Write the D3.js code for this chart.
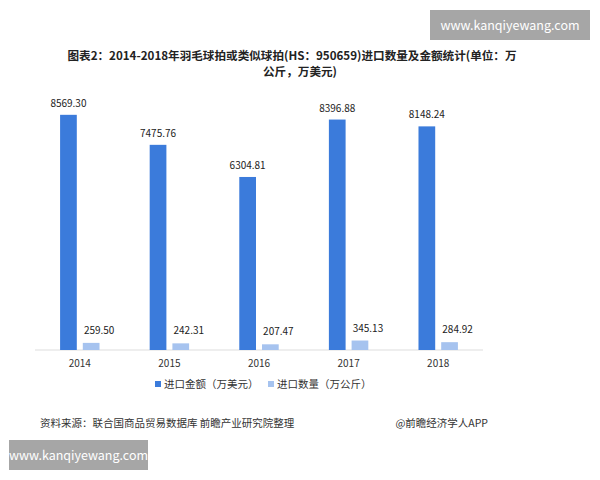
<!DOCTYPE html><html><head><meta charset="utf-8"><script src="https://cdn.jsdelivr.net/npm/d3@7"></script>
<style>body{margin:0;background:#fff}text{font-family:"Noto Sans CJK SC","Liberation Sans",sans-serif}</style></head><body><svg id="c" width="600" height="480"></svg><script>
const years=["2014","2015","2016","2017","2018"];
const amount=[8569.30,7475.76,6304.81,8396.88,8148.24];
const qty=[259.50,242.31,207.47,345.13,284.92];
const seriesNames=["进口金额（万美元）","进口数量（万公斤）"];
const colors=["#3b7bdb","#a6c3ef"];
const svg=d3.select("#c");
const x=d3.scaleBand().domain(years).range([35,483]).paddingInner(0.56).paddingOuter(0.28);
const y=d3.scaleLinear().domain([0,9000]).range([350,103]);
const bw=x.bandwidth()/2-3;
svg.append("text").attr("x",292).attr("y",60).attr("text-anchor","middle").attr("font-size",11.6).attr("font-weight","bold").attr("fill","#222").text("图表2：2014-2018年羽毛球拍或类似球拍(HS：950659)进口数量及金额统计(单位：万");
svg.append("text").attr("x",300).attr("y",76).attr("text-anchor","middle").attr("font-size",11.6).attr("font-weight","bold").attr("fill","#222").text("公斤，万美元)");
svg.append("line").attr("x1",35).attr("x2",483).attr("y1",350).attr("y2",350).attr("stroke","#ddd");
const g=svg.append("g");
g.selectAll(".a").data(years).join("rect").attr("x",d=>x(d)).attr("width",bw).attr("y",(d,i)=>y(amount[i])).attr("height",(d,i)=>350-y(amount[i])).attr("fill",colors[0]);
g.selectAll(".q").data(years).join("rect").attr("x",d=>x(d)+bw+6).attr("width",bw).attr("y",(d,i)=>y(qty[i])).attr("height",(d,i)=>350-y(qty[i])).attr("fill",colors[1]);
g.selectAll(".al").data(years).join("text").attr("x",d=>x(d)+bw/2).attr("y",(d,i)=>y(amount[i])-8).attr("text-anchor","middle").attr("font-size",10).attr("fill","#222").text((d,i)=>amount[i].toFixed(2));
g.selectAll(".ql").data(years).join("text").attr("x",d=>x(d)+bw*1.5+14).attr("y",(d,i)=>y(qty[i])-9).attr("text-anchor","middle").attr("font-size",10).attr("fill","#222").text((d,i)=>qty[i].toFixed(2));
svg.append("g").attr("transform","translate(0,350)").call(d3.axisBottom(x).tickSize(0).tickPadding(10)).call(a=>{a.select(".domain").remove();a.selectAll("text").attr("font-size",10).attr("fill","#333").attr("font-family","Liberation Sans")});
const lg=svg.append("g").attr("transform","translate(155,390)");
seriesNames.forEach((n,i)=>{const o=i*113;lg.append("rect").attr("x",o).attr("y",-9).attr("width",6).attr("height",6).attr("fill",colors[i]);lg.append("text").attr("x",o+9).attr("y",-2).attr("font-size",10.5).attr("fill","#333").text(n);});
svg.append("text").attr("x",40).attr("y",427).attr("font-size",10.5).attr("fill","#333").text("资料来源：联合国商品贸易数据库 前瞻产业研究院整理");
svg.append("text").attr("x",488).attr("y",427).attr("text-anchor","end").attr("font-size",10.5).attr("fill","#333").text("@前瞻经济学人APP");
[[430,10,160,30],[9,440,139,30]].forEach(b=>{svg.append("rect").attr("x",b[0]).attr("y",b[1]).attr("width",b[2]).attr("height",b[3]).attr("fill","#a6a6a6");svg.append("text").attr("x",b[0]+b[2]/2).attr("y",b[1]+20).attr("text-anchor","middle").attr("font-size",12.5).attr("fill","#fff").attr("font-family","Liberation Sans").text("www.kanqiyewang.com");});
</script></body></html>
